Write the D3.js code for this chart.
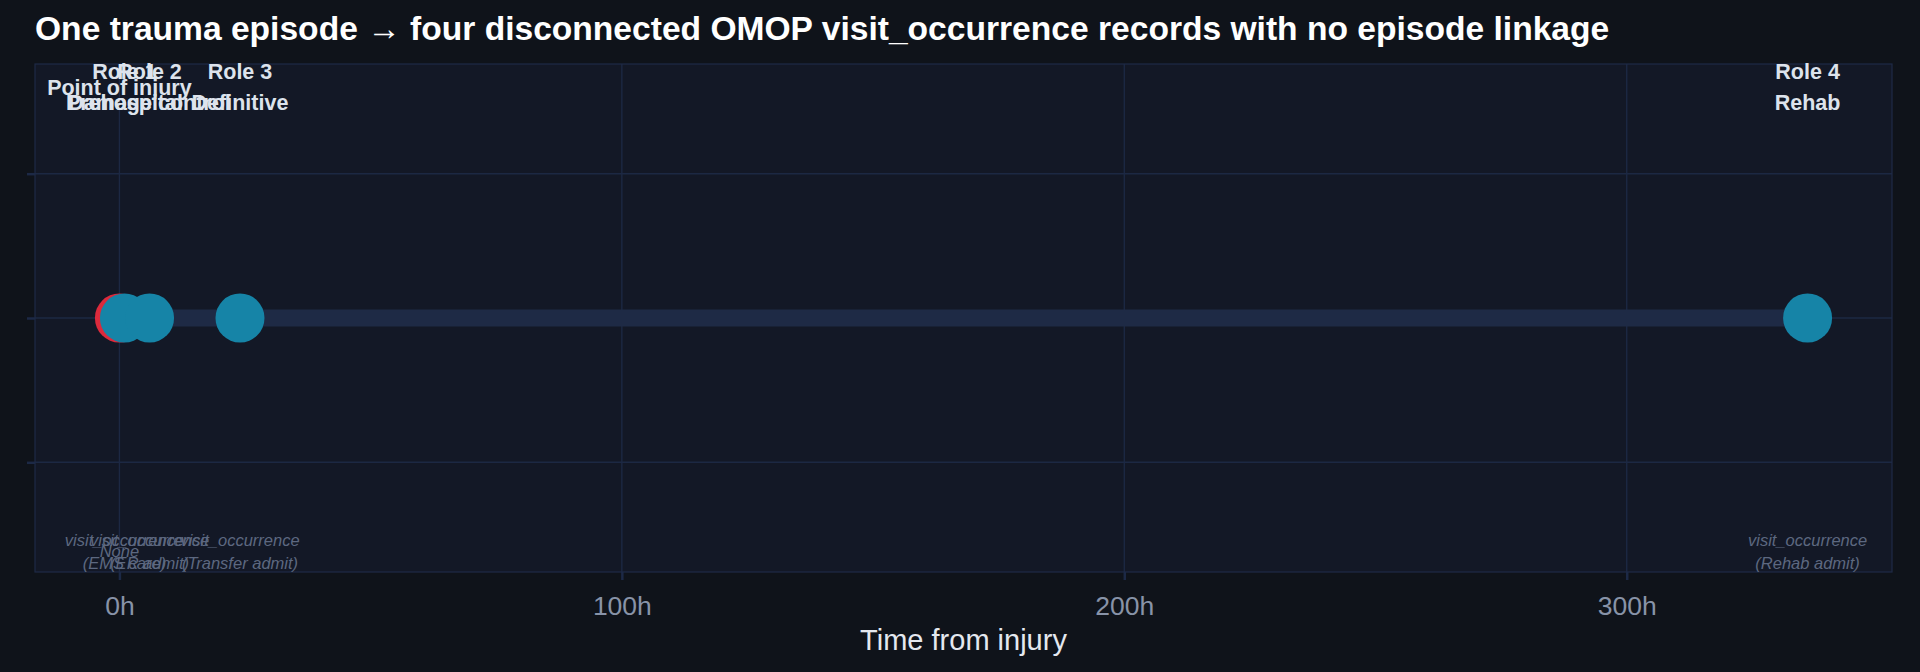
<!DOCTYPE html>
<html><head><meta charset="utf-8">
<script src="https://cdn.jsdelivr.net/npm/d3@7"></script>
<style>
html,body{margin:0;padding:0;background:#0f131a;}
svg{display:block;font-family:"Liberation Sans",Helvetica,Arial,sans-serif;}
</style></head>
<body>
<svg id="chart" width="1920" height="672"></svg>
<script>
// ---- data ----
const stages = ["Point of injury", "Role 1", "Role 2", "Role 3", "Role 4"];
const hoursFromInjury = [0, 1, 6, 24, 336];
const stageKinds = ["injury", "visit", "visit", "visit", "visit"];
const careLabels = [["Point of injury"], ["Role 1", "Prehospital"], ["Role 2", "Damage control"], ["Role 3", "Definitive"], ["Role 4", "Rehab"]];
const omopLabels = [["None"], ["visit_occurrence", "(EMS care)"], ["visit_occurrence", "(ER admit)"], ["visit_occurrence", "(Transfer admit)"], ["visit_occurrence", "(Rehab admit)"]];
const xTickValues = [0, 100, 200, 300];
const xTickLabels = ["0h", "100h", "200h", "300h"];
const yTickValues = [-0.5, 0, 0.5];
const titleText = "One trauma episode \u2192 four disconnected OMOP visit_occurrence records with no episode linkage";
const xTitle = "Time from injury";

// ---- layout ----
const W = 1920, H = 672;
const P = {left: 35, right: 1892, top: 64, bottom: 572};
const svg = d3.select("#chart");
const colors = {injury: "#dc2a3c", visit: "#1684a7"};

const x = d3.scaleLinear().domain([-16.8, 352.8]).range([P.left, P.right]);
const y = d3.scaleLinear().domain([-0.88, 0.88]).range([P.bottom, P.top]);

svg.append("rect").attr("width", W).attr("height", H).attr("fill", "#0f131a");
svg.append("rect").attr("x", P.left).attr("y", P.top)
  .attr("width", P.right - P.left).attr("height", P.bottom - P.top)
  .attr("fill", "#131826");

// grid
const g = svg.append("g");
g.selectAll("line.vg").data(xTickValues).join("line")
  .attr("x1", d => x(d)).attr("x2", d => x(d))
  .attr("y1", P.top).attr("y2", P.bottom)
  .attr("stroke", "#1c2843").attr("stroke-width", 1.4);
g.selectAll("line.hg").data(yTickValues).join("line")
  .attr("x1", P.left).attr("x2", P.right)
  .attr("y1", d => y(d)).attr("y2", d => y(d))
  .attr("stroke", "#1c2843").attr("stroke-width", 1.4);

// panel border
svg.append("rect").attr("x", P.left).attr("y", P.top)
  .attr("width", P.right - P.left).attr("height", P.bottom - P.top)
  .attr("fill", "none").attr("stroke", "#1e2a46").attr("stroke-width", 1.2);

// x axis
const xAxis = d3.axisBottom(x).tickValues(xTickValues)
  .tickFormat((d, i) => xTickLabels[i]).tickSize(8).tickPadding(16);
const xa = svg.append("g").attr("transform", `translate(0,${P.bottom})`).call(xAxis);
xa.select(".domain").remove();
xa.selectAll(".tick line").attr("stroke", "#1c2946").attr("stroke-width", 2.5);
xa.selectAll(".tick text").attr("fill", "#8893a8").attr("font-size", 26.5)
  .attr("font-family", "'Liberation Sans',Helvetica,Arial,sans-serif");

// y axis (ticks only)
const yAxis = d3.axisLeft(y).tickValues(yTickValues).tickFormat("").tickSize(8);
const ya = svg.append("g").attr("transform", `translate(${P.left},0)`).call(yAxis);
ya.select(".domain").remove();
ya.selectAll(".tick line").attr("stroke", "#1c2946").attr("stroke-width", 2.5);

// episode band
svg.append("line")
  .attr("x1", x(d3.min(hoursFromInjury))).attr("x2", x(d3.max(hoursFromInjury)))
  .attr("y1", y(0)).attr("y2", y(0))
  .attr("stroke", "#1e2a45").attr("stroke-width", 17);

// points
svg.selectAll("circle.pt").data(stages).join("circle")
  .attr("cx", (d, i) => x(hoursFromInjury[i]))
  .attr("cy", y(0)).attr("r", 24.5)
  .attr("fill", (d, i) => colors[stageKinds[i]]);

// top labels
const topText = svg.selectAll("text.toplab").data(stages).join("text")
  .attr("class", "toplab")
  .attr("text-anchor", "middle").attr("font-weight", "bold")
  .attr("font-size", 21.5).attr("fill", "#dde3ec");
topText.each(function(d, i) {
  const lines = careLabels[i];
  const n = lines.length;
  d3.select(this).selectAll("tspan").data(lines).join("tspan")
    .attr("x", x(hoursFromInjury[i]))
    .attr("y", (l, j) => y(0.8) + 7.5 + (j - (n - 1) / 2) * 31)
    .text(l => l);
});

// bottom labels
const botText = svg.selectAll("text.botlab").data(stages).join("text")
  .attr("class", "botlab")
  .attr("text-anchor", "middle").attr("font-style", "italic")
  .attr("font-size", 16.5).attr("fill", "#5d6880");
botText.each(function(d, i) {
  const lines = omopLabels[i];
  const n = lines.length;
  d3.select(this).selectAll("tspan").data(lines).join("tspan")
    .attr("x", x(hoursFromInjury[i]))
    .attr("y", (l, j) => y(-0.8) + 8.5 + (j - (n - 1) / 2) * 23)
    .text(l => l);
});

// titles
svg.append("text").attr("x", 35).attr("y", 40)
  .attr("font-weight", "bold").attr("font-size", 33.6).attr("fill", "#ffffff")
  .text(titleText);
svg.append("text").attr("x", (P.left + P.right) / 2).attr("y", 650)
  .attr("text-anchor", "middle").attr("font-size", 29).attr("fill", "#e4e8ef")
  .text(xTitle);
</script>
</body></html>
